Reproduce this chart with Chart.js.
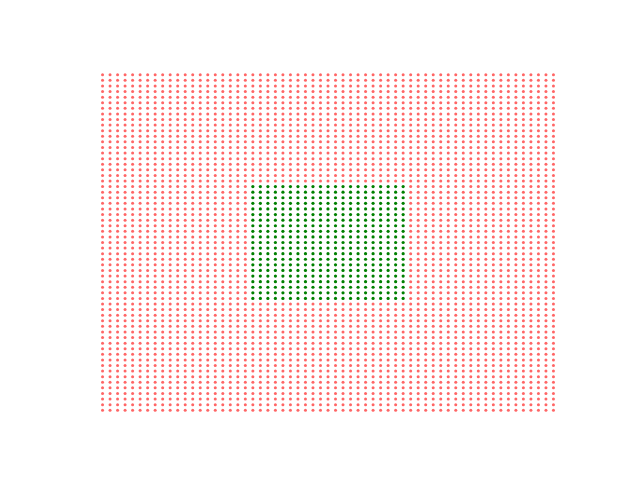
<!DOCTYPE html>
<html>
<head>
<meta charset="utf-8">
<script src="https://cdn.jsdelivr.net/npm/chart.js@4/dist/chart.umd.min.js"></script>
<style>
html,body{margin:0;padding:0;background:#fff;}
#wrap{width:640px;height:480px;}
</style>
</head>
<body>
<div id="wrap"><canvas id="c" width="640" height="480"></canvas></div>
<script>
// grid coordinates (same for x and y)
const gridValues = [-3.0,-2.9,-2.8,-2.7,-2.6,-2.5,-2.4,-2.3,-2.2,-2.1,-2.0,-1.9,-1.8,-1.7,-1.6,-1.5,-1.4,-1.3,-1.2,-1.1,-1.0,-0.9,-0.8,-0.7,-0.6,-0.5,-0.4,-0.3,-0.2,-0.1,0.0,0.1,0.2,0.3,0.4,0.5,0.6,0.7,0.8,0.9,1.0,1.1,1.2,1.3,1.4,1.5,1.6,1.7,1.8,1.9,2.0,2.1,2.2,2.3,2.4,2.5,2.6,2.7,2.8,2.9,3.0];
// bounds of the green region
const innerBounds = [-1.0, 1.0];
const eps = 1e-9;

const outsidePts = [];
const insidePts = [];
for (const y of gridValues) {
  for (const x of gridValues) {
    const inside = x >= innerBounds[0]-eps && x <= innerBounds[1]+eps && y >= innerBounds[0]-eps && y <= innerBounds[1]+eps;
    (inside ? insidePts : outsidePts).push({x: x, y: y});
  }
}

new Chart(document.getElementById('c'), {
  type: 'scatter',
  data: {
    datasets: [
      {label: 'outside', data: outsidePts, pointRadius: 1.5, pointBorderWidth: 0,
       backgroundColor: 'rgba(255,0,0,0.6)', borderColor: 'rgba(255,0,0,0.6)'},
      {label: 'inside', data: insidePts, pointRadius: 1.6, pointBorderWidth: 0,
       backgroundColor: '#008000', borderColor: '#008000'}
    ]
  },
  options: {
    responsive: false,
    animation: false,
    events: [],
    layout: {padding: {left: 80, right: 64, top: 58, bottom: 53}},
    plugins: {legend: {display: false}, tooltip: {enabled: false}},
    scales: {
      x: {type: 'linear', min: -3.3, max: 3.3, display: false},
      y: {type: 'linear', min: -3.3, max: 3.3, display: false}
    }
  }
});
</script>
</body>
</html>
